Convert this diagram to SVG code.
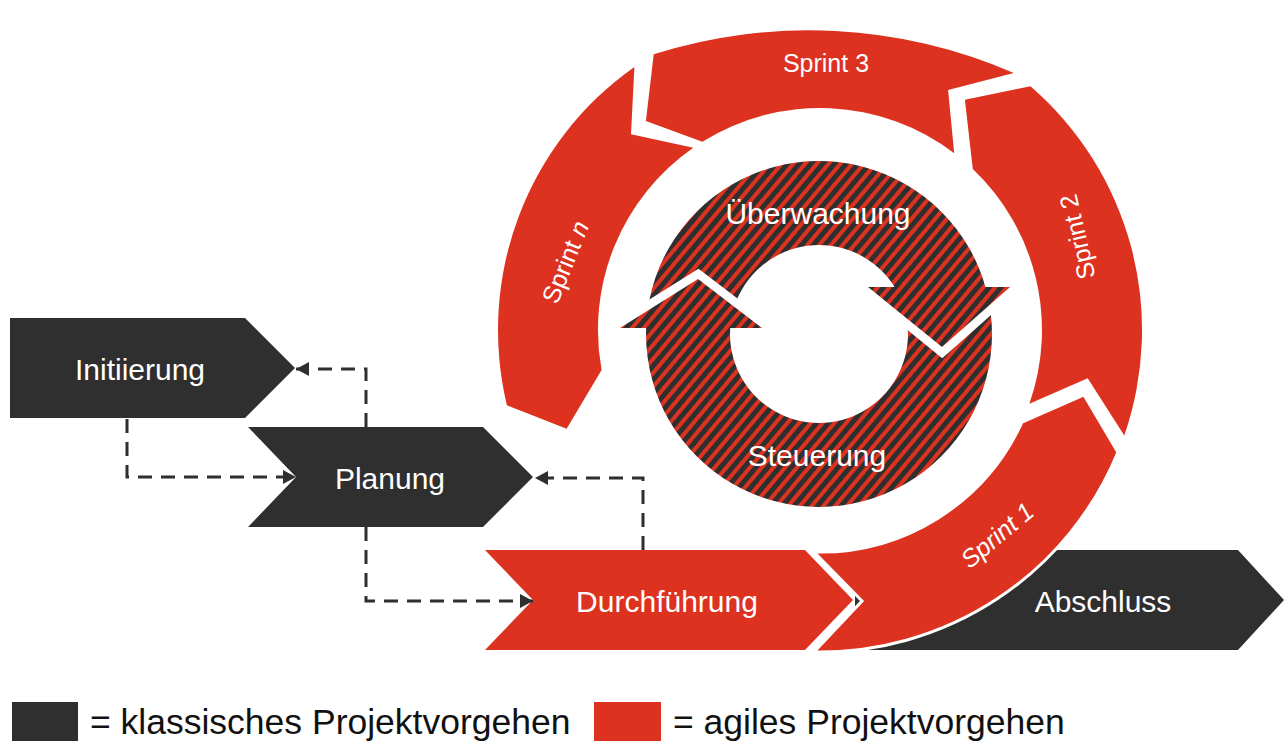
<svg xmlns="http://www.w3.org/2000/svg" width="1285" height="742" viewBox="0 0 1285 742">
<style>
.dark{fill:#2f2f2f}
.red{fill:#dd3220}
.hatch{fill:url(#stripes)}
.lbl{fill:#ffffff;font-family:"Liberation Sans",Arial,sans-serif;font-size:30px;text-anchor:middle;dominant-baseline:central}
.spr{fill:#ffffff;font-family:"Liberation Sans",Arial,sans-serif;font-size:25px;text-anchor:middle;dominant-baseline:central}
.leg{fill:#111111;font-family:"Liberation Sans",Arial,sans-serif;font-size:35.5px}
.conn{fill:none;stroke:#2f2f2f;stroke-width:3;stroke-dasharray:14 9;marker-end:url(#arr)}
.gap{fill:none;stroke:#ffffff;stroke-width:17;stroke-linejoin:miter;stroke-miterlimit:10}
</style>
<defs>
<pattern id="stripes" patternUnits="userSpaceOnUse" width="9" height="9" patternTransform="rotate(40)">
<rect x="0" y="0" width="9" height="9" fill="#2f2f2f"/>
<rect x="0" y="0" width="4" height="9" fill="#dd3220"/>
</pattern>
<marker id="arr" markerUnits="userSpaceOnUse" markerWidth="14" markerHeight="14" refX="13" refY="7" orient="auto">
<path d="M0,0 L13,7 L0,14 z" fill="#2f2f2f"/>
</marker>
</defs>
<rect width="1285" height="742" fill="#ffffff"/>

<g id="abschluss">
<polygon class="dark" points="855,550 1238,550 1284,600 1238,650 855,650"/>
<text class="lbl" x="1103" y="601">Abschluss</text>
</g>

<g id="sprint-1">
<path class="red" stroke="#ffffff" stroke-width="3" d="M814,552 L862,601 L814,652 A322,322 0 0 0 1117.9,452.2 L1084.1,394.9 L1022,422.1 A222,222 0 0 1 814,552 Z"/>
<text class="spr" x="997" y="535" font-style="italic" transform="rotate(-40 997 535)">Sprint 1</text>
</g>

<g id="sprint-2">
<path class="red" d="M1124.3,435.4 A322,322 0 0 0 1030.4,86.2 L964.9,99.8 L972.8,169 A222,222 0 0 1 1029.4,403.7 L1087.7,378.2 Z"/>
<text class="spr" x="1077" y="237" transform="rotate(-103 1077 237)">Sprint 2</text>
</g>

<g id="sprint-3">
<path class="red" d="M1013.8,72.9 A514,514 0 0 0 653.7,54.3 L645.9,121 L702.4,141.7 A222,222 0 0 1 954.2,153.2 L948.1,90.1 Z"/>
<text class="spr" x="826" y="63">Sprint 3</text>
</g>

<g id="sprint-n">
<path class="red" d="M634.4,66.9 A322,322 0 0 0 506.9,405.2 L566.6,428.8 L601.6,370.1 A222,222 0 0 1 693.3,147.7 L631,134.3 Z"/>
<text class="spr" x="565" y="262" transform="rotate(-68 565 262)">Sprint <tspan font-style="italic">n</tspan></text>
</g>

<g id="cycle">
<path class="hatch" fill-rule="evenodd" d="M819,161 A173,173 0 1 1 818.99,161 Z M819,245 A89,89 0 1 0 819.01,245 Z"/>
<polyline class="gap" points="620,328 698,279 762,328"/>
<polyline class="gap" points="868,287 942,347 1010,287"/>
<polygon class="hatch" points="620,328 698,279 762,328"/>
<polygon class="hatch" points="868,287 942,347 1010,287"/>
<text class="lbl" x="818" y="213">Überwachung</text>
<text class="lbl" x="817" y="455">Steuerung</text>
</g>

<g id="initiierung">
<polygon class="dark" points="10,318 245,318 295,368 245,418 10,418"/>
<text class="lbl" x="140" y="369">Initiierung</text>
</g>

<g id="planung">
<polygon class="dark" points="248,427 483,427 533,477 483,527 248,527 296,477"/>
<text class="lbl" x="390" y="478">Planung</text>
</g>

<g id="durchfuehrung">
<polygon class="red" points="485,550 805,550 853,600 805,650 485,650 533,600"/>
<text class="lbl" x="667" y="601">Durchführung</text>
</g>

<g id="connectors">
<path class="conn" d="M127,419 V477 H296"/>
<path class="conn" d="M366,427 V369 H296"/>
<path class="conn" d="M366,527 V601 H533"/>
<path class="conn" d="M643,550 V478 H535"/>
</g>

<g id="legend">
<rect class="dark" x="12" y="702" width="66" height="39"/>
<text class="leg" x="90" y="734">= klassisches Projektvorgehen</text>
<rect class="red" x="594" y="702" width="67" height="39"/>
<text class="leg" x="673" y="734">= agiles Projektvorgehen</text>
</g>
</svg>
